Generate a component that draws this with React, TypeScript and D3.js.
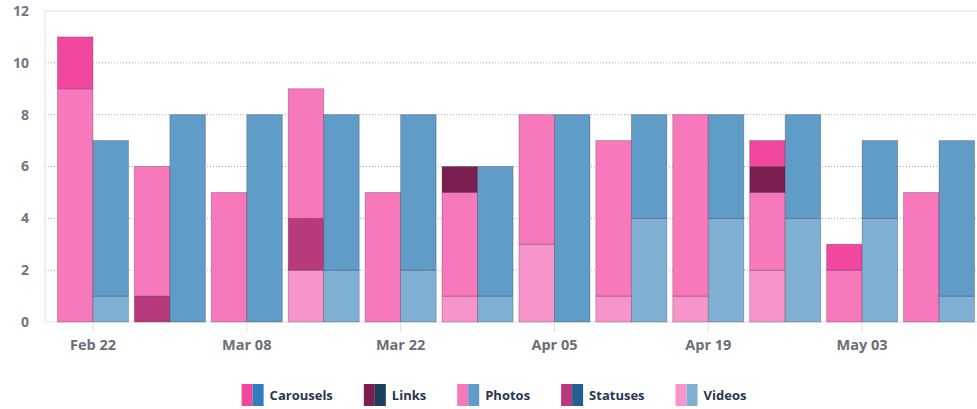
import React from "react";
import * as d3 from "d3";

const weeks = ["Feb 22", "Mar 01", "Mar 08", "Mar 15", "Mar 22", "Mar 29", "Apr 05", "Apr 12", "Apr 19", "Apr 26", "May 03", "May 10"];
const tickWeeks = ["Feb 22", "Mar 08", "Mar 22", "Apr 05", "Apr 19", "May 03"];
const types = ["Carousels", "Links", "Photos", "Statuses", "Videos"];
const stackOrder = ["Videos", "Statuses", "Photos", "Links", "Carousels"];
const yTicks = [0, 2, 4, 6, 8, 10, 12];

// Pink account (left bar of each week)
const pinkCarousels = [2, 0, 0, 0, 0, 0, 0, 0, 0, 1, 1, 0];
const pinkLinks = [0, 0, 0, 0, 0, 1, 0, 0, 0, 1, 0, 0];
const pinkPhotos = [9, 5, 5, 5, 5, 4, 5, 6, 7, 3, 2, 5];
const pinkStatuses = [0, 1, 0, 2, 0, 0, 0, 0, 0, 0, 0, 0];
const pinkVideos = [0, 0, 0, 2, 0, 1, 3, 1, 1, 2, 0, 0];

// Blue account (right bar of each week)
const blueCarousels = [0, 0, 0, 0, 0, 0, 0, 0, 0, 0, 0, 0];
const blueLinks = [0, 0, 0, 0, 0, 0, 0, 0, 0, 0, 0, 0];
const bluePhotos = [6, 8, 8, 6, 6, 5, 8, 4, 4, 4, 3, 6];
const blueStatuses = [0, 0, 0, 0, 0, 0, 0, 0, 0, 0, 0, 0];
const blueVideos = [1, 0, 0, 2, 2, 1, 0, 4, 4, 4, 4, 1];

const pinkColors: Record<string, string> = {
  Carousels: "#f2479f",
  Links: "#7b1f50",
  Photos: "#f778bb",
  Statuses: "#b83a7c",
  Videos: "#f794c9",
};
const blueColors: Record<string, string> = {
  Carousels: "#2f7dbd",
  Links: "#1c3f5e",
  Photos: "#5f9cc8",
  Statuses: "#236090",
  Videos: "#80afd4",
};

const series = [
  {
    key: "pink",
    colors: pinkColors,
    data: { Carousels: pinkCarousels, Links: pinkLinks, Photos: pinkPhotos, Statuses: pinkStatuses, Videos: pinkVideos } as Record<string, number[]>,
  },
  {
    key: "blue",
    colors: blueColors,
    data: { Carousels: blueCarousels, Links: blueLinks, Photos: bluePhotos, Statuses: blueStatuses, Videos: blueVideos } as Record<string, number[]>,
  },
];

const W = 977;
const H = 409;
const FONT = "'Open Sans', sans-serif";

function measure(text: string, font: string): number {
  const c = document.createElement("canvas").getContext("2d");
  if (!c) return text.length * 7;
  c.font = font;
  return c.measureText(text).width;
}

export default function App() {
  const left = 45;
  const right = 977;
  const top = 11;
  const bottom = 322;

  const x = d3.scaleBand<string>().domain(weeks).range([54.5, 977.5]).paddingInner(0.077).paddingOuter(0.0385);
  const sub = d3.scaleBand<string>().domain(series.map((s) => s.key)).range([0, x.bandwidth()]);
  const y = d3.scaleLinear().domain([0, 12]).range([bottom, top]);

  const rects: JSX.Element[] = [];
  series.forEach((s) => {
    const table = weeks.map((w, i) => {
      const row: Record<string, number | string> = { week: w };
      stackOrder.forEach((t) => (row[t] = s.data[t][i]));
      return row;
    });
    const stacked = d3.stack<any>().keys(stackOrder)(table);
    stacked.forEach((layer) => {
      layer.forEach((d, i) => {
        if (d[1] - d[0] <= 0) return;
        const x0 = (x(weeks[i]) ?? 0) + (sub(s.key) ?? 0);
        rects.push(
          <rect
            key={`${s.key}-${layer.key}-${i}`}
            x={x0}
            y={y(d[1])}
            width={sub.bandwidth()}
            height={y(d[0]) - y(d[1])}
            fill={s.colors[layer.key]}
            stroke="rgba(60,30,60,0.35)"
            strokeWidth={0.8}
          />
        );
      });
    });
  });

  const legendFont = `bold 13px ${FONT}`;
  const sw = 22;
  const gapText = 6;
  const gapItem = 31;
  const widths = types.map((t) => sw + gapText + measure(t, legendFont));
  const total = widths.reduce((a, b) => a + b, 0) + gapItem * (types.length - 1);
  let lx = 494 - total / 2;
  const legendItems = types.map((t, i) => {
    const gx = lx;
    lx += widths[i] + gapItem;
    return (
      <g key={t} transform={`translate(${gx},384)`}>
        <rect x={0} y={0} width={sw / 2} height={22} fill={pinkColors[t]} />
        <rect x={sw / 2} y={0} width={sw / 2} height={22} fill={blueColors[t]} />
        <text x={sw + gapText} y={11} dy="0.35em" fontFamily={FONT} fontWeight="bold" fontSize={13} fill="#2a3550">
          {t}
        </text>
      </g>
    );
  });

  return (
    <svg width={W} height={H} style={{ position: "absolute", left: 0, top: 0, background: "#fff" }}>
      {/* grid */}
      {yTicks.filter((t) => t > 0 && t < 12).map((t) => (
        <line key={t} x1={left} x2={right} y1={y(t)} y2={y(t)} stroke="#aaa" strokeWidth={1} strokeDasharray="1,2" />
      ))}
      <line x1={left} x2={right} y1={y(12)} y2={y(12)} stroke="#e2e2e2" strokeWidth={1} />
      <line x1={left} x2={left} y1={top} y2={bottom} stroke="#e2e2e2" strokeWidth={1} />
      <line x1={left} x2={right} y1={bottom} y2={bottom} stroke="#e2e2e2" strokeWidth={1} />
      {/* y labels */}
      {yTicks.map((t) => (
        <text key={t} x={29} y={y(t)} dy="0.35em" textAnchor="end" fontFamily={FONT} fontWeight="bold" fontSize={14} fill="#737580">
          {t}
        </text>
      ))}
      {rects}
      {/* x ticks */}
      {tickWeeks.map((w) => {
        const cx = (x(w) ?? 0) + x.bandwidth() / 2;
        return (
          <g key={w}>
            <line x1={cx} x2={cx} y1={bottom} y2={bottom + 10} stroke="#ddd" strokeWidth={1} />
            <text x={cx} y={345} dy="0.35em" textAnchor="middle" fontFamily={FONT} fontWeight="bold" fontSize={14.5} fill="#6a6e78">
              {w}
            </text>
          </g>
        );
      })}
      {legendItems}
    </svg>
  );
}
